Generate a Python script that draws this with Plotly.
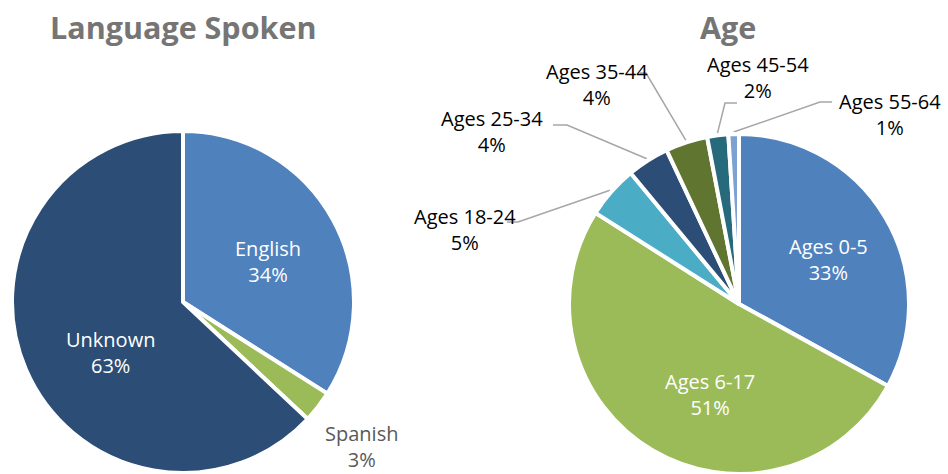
import math
import plotly.graph_objects as go

# ---------------- data ----------------
lang_labels = ["English", "Spanish", "Unknown"]
lang_values = [34, 3, 63]
lang_colors = ["#4F81BD", "#9BBB59", "#2C4D75"]

age_labels = ["Ages 0-5", "Ages 6-17", "Ages 18-24", "Ages 25-34",
              "Ages 35-44", "Ages 45-54", "Ages 55-64"]
age_values = [33, 51, 5, 4, 4, 2, 1]
age_colors = ["#4F81BD", "#9BBB59", "#4BACC6", "#2C4D75",
              "#5F7530", "#276A7C", "#7DA1D0"]

W, H = 948, 474
FONT = "Open Sans"

# pie geometry (pixels)
LEFT_BOX = (12, 354, 131, 473)   # x0, x1, y0, y1
RIGHT_BOX = (569, 909, 134, 474)


def dom(box):
    x0, x1, y0, y1 = box
    return dict(x=[x0 / W, x1 / W], y=[1 - y1 / H, 1 - y0 / H])


def geom(box):
    x0, x1, y0, y1 = box
    r = min(x1 - x0, y1 - y0) / 2
    return (x0 + x1) / 2, (y0 + y1) / 2, r


def edge_point(values, idx, box, extra=2):
    cx, cy, r = geom(box)
    tot = sum(values)
    mid = (sum(values[:idx]) + values[idx] / 2) / tot * 2 * math.pi
    rr = r + extra
    return cx + rr * math.sin(mid), cy - rr * math.cos(mid)


fig = go.Figure()

# hidden pixel-space axes for leader lines & labels
fig.add_trace(go.Scatter(x=[0, W], y=[0, H], mode="markers",
                         marker=dict(opacity=0), hoverinfo="skip",
                         showlegend=False))

fig.add_trace(go.Pie(labels=lang_labels, values=lang_values, sort=False,
                     direction="clockwise", rotation=0, domain=dom(LEFT_BOX),
                     marker=dict(colors=lang_colors,
                                 line=dict(color="white", width=4)),
                     textinfo="none", hoverinfo="label+percent",
                     showlegend=False))

fig.add_trace(go.Pie(labels=age_labels, values=age_values, sort=False,
                     direction="clockwise", rotation=0, domain=dom(RIGHT_BOX),
                     marker=dict(colors=age_colors,
                                 line=dict(color="white", width=4)),
                     textinfo="none", hoverinfo="label+percent",
                     showlegend=False))

annotations = []


def add_label(text, x, y, color, size=20):
    annotations.append(dict(text=text, x=x, y=y, xref="x", yref="y",
                            showarrow=False, align="center",
                            font=dict(family=FONT, size=size, color=color)))


# Language labels (label center positions in px)
lang_label_pos = [(268, 261, "white"), (361, 446, "#595959"), (110, 352, "white")]
for lab, v, (x, y, c) in zip(lang_labels, lang_values, lang_label_pos):
    add_label(f"{lab}<br>{v}%", x, y, c)

# Age labels
age_label_pos = [(828, 259, "white"), (710, 394, "white"),
                 (465, 229, "black"), (492, 131, "black"),
                 (597, 84, "black"), (758, 77, "black"), (890, 114, "black")]
for lab, v, (x, y, c) in zip(age_labels, age_values, age_label_pos):
    add_label(f"{lab}<br>{v}%", x, y, c)

# leader lines for outside age labels: (slice index, tail x, knee x, y)
leaders = [(2, 507, 518, 222), (3, 553, 567, 125), (4, 640, 646, 73),
           (5, 737, 725, 103), (6, 832, 820, 102)]
for idx, tx, kx, ly in leaders:
    ex, ey = edge_point(age_values, idx, RIGHT_BOX)
    fig.add_trace(go.Scatter(x=[tx, kx, ex], y=[ly, ly, ey], mode="lines",
                             line=dict(color="#A6A6A6", width=1.5),
                             hoverinfo="skip", showlegend=False))

# titles
annotations.append(dict(text="<b>Language Spoken</b>", x=183, y=27, xref="x",
                        yref="y", showarrow=False,
                        font=dict(family=FONT, size=30.5, color="#757575")))
annotations.append(dict(text="<b>Age</b>", x=728, y=27, xref="x", yref="y",
                        showarrow=False,
                        font=dict(family=FONT, size=30.5, color="#757575")))

fig.update_layout(
    width=W, height=H, margin=dict(l=0, r=0, t=0, b=0),
    paper_bgcolor="white", plot_bgcolor="rgba(0,0,0,0)",
    showlegend=False, annotations=annotations,
    xaxis=dict(range=[0, W], visible=False, domain=[0, 1], fixedrange=True),
    yaxis=dict(range=[H, 0], visible=False, domain=[0, 1], fixedrange=True),
)

fig.write_html("out.html", config={"displayModeBar": False},
               post_script="document.body.style.margin='0';"
                           "document.body.style.overflow='hidden';")
